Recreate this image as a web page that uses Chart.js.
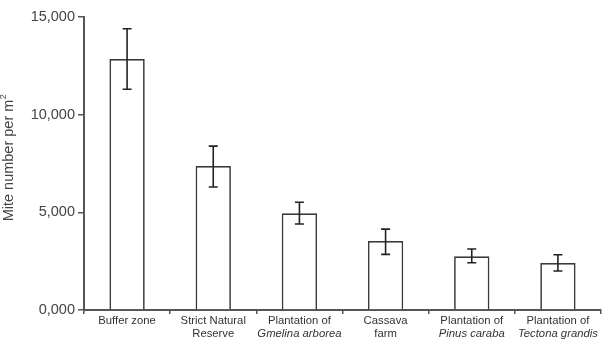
<!DOCTYPE html>
<html><head><meta charset="utf-8">
<script src="https://cdn.jsdelivr.net/npm/chart.js@4.4.1/dist/chart.umd.min.js"></script>
<style>html,body{margin:0;padding:0;background:#fff}#wrap{width:607px;height:356px}</style>
</head><body><div id="wrap"><canvas id="c" width="607" height="356"></canvas></div>
<script>
const categories = [
  ["Buffer zone", ""],
  ["Strict Natural", "Reserve"],
  ["Plantation of", "Gmelina arborea"],
  ["Cassava", "farm"],
  ["Plantation of", "Pinus caraba"],
  ["Plantation of", "Tectona grandis"]
];
const italicSecondLine = [false, false, true, false, true, true];
const means = [12850, 7370, 4950, 3530, 2750, 2400];
const errHigh = [14400, 8390, 5520, 4140, 3120, 2830];
const errLow = [11300, 6300, 4400, 2850, 2420, 2000];
const yTickLabels = {0: "0,000", 5000: "5,000", 10000: "10,000", 15000: "15,000"};
const yTitle = "Mite number per m";

const AX = "#555";
const FONT = "'Liberation Sans', Arial, sans-serif";

const errorBars = {
  id: "errorBars",
  afterDatasetsDraw(chart) {
    const ctx = chart.ctx, x = chart.scales.x, y = chart.scales.y;
    ctx.save();
    ctx.strokeStyle = "#222";
    ctx.lineWidth = 1.6;
    means.forEach((m, i) => {
      const px = x.getPixelForValue(i);
      const hi = y.getPixelForValue(errHigh[i]);
      const lo = y.getPixelForValue(errLow[i]);
      ctx.beginPath();
      ctx.moveTo(px, hi); ctx.lineTo(px, lo);
      ctx.moveTo(px - 4.5, hi); ctx.lineTo(px + 4.5, hi);
      ctx.moveTo(px - 4.5, lo); ctx.lineTo(px + 4.5, lo);
      ctx.stroke();
    });
    ctx.restore();
  }
};

const textPlugin = {
  id: "textPlugin",
  afterDraw(chart) {
    const ctx = chart.ctx, x = chart.scales.x;
    ctx.save();
    ctx.fillStyle = "#333";
    ctx.textAlign = "center";
    ctx.textBaseline = "middle";
    categories.forEach((lines, i) => {
      const px = x.getPixelForValue(i);
      ctx.font = "11.3px " + FONT;
      ctx.fillText(lines[0], px, 321);
      if (lines[1]) {
        ctx.font = (italicSecondLine[i] ? "italic " : "") + "11.3px " + FONT;
        ctx.fillText(lines[1], px, 334);
      }
    });
    // y-axis title with superscript
    ctx.fillStyle = "#444";
    ctx.translate(9, 158);
    ctx.rotate(-Math.PI / 2);
    ctx.font = "14.5px " + FONT;
    const w = ctx.measureText(yTitle).width;
    ctx.font = "9px " + FONT;
    const w2 = ctx.measureText("2").width;
    const start = -(w + w2) / 2;
    ctx.textAlign = "left";
    ctx.font = "14.5px " + FONT;
    ctx.fillText(yTitle, start, 0);
    ctx.font = "9px " + FONT;
    ctx.fillText("2", start + w + 0.5, -5);
    ctx.restore();
  }
};

new Chart(document.getElementById("c"), {
  type: "bar",
  data: {
    labels: categories.map(c => c.join(" ")),
    datasets: [{
      data: means,
      backgroundColor: "#fff",
      borderColor: "#3a3a3a",
      borderWidth: 1.7,
      categoryPercentage: 1,
      barPercentage: 0.41
    }]
  },
  options: {
    responsive: false,
    animation: false,
    devicePixelRatio: 1,
    layout: {padding: {top: 17, right: 6, left: 0, bottom: 0}},
    plugins: {legend: {display: false}, tooltip: {enabled: false}},
    scales: {
      x: {
        offset: true,
        grid: {offset: true, drawOnChartArea: false, drawTicks: true, tickLength: 4, color: AX, lineWidth: 1.5},
        border: {display: true, color: AX, width: 2},
        ticks: {display: false},
        afterFit(s) { s.height = 46; }
      },
      y: {
        min: 0, max: 15000,
        grid: {drawOnChartArea: false, drawTicks: true, tickLength: 6, color: AX, lineWidth: 1.5},
        border: {display: true, color: AX, width: 2},
        ticks: {
          stepSize: 5000,
          padding: 3,
          color: "#444",
          font: {family: FONT, size: 14.5},
          callback: v => yTickLabels[v]
        },
        afterFit(s) { s.width = 84; }
      }
    }
  },
  plugins: [errorBars, textPlugin]
});
</script>
</body></html>
